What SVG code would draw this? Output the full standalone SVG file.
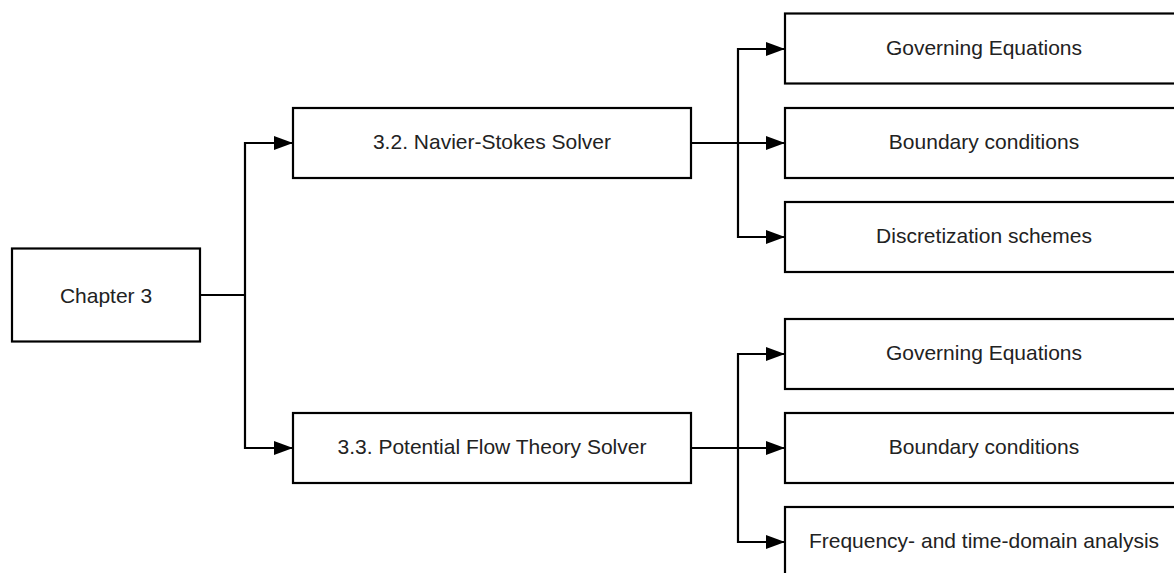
<svg xmlns="http://www.w3.org/2000/svg" width="1174" height="573" viewBox="0 0 1174 573">
<style>
.box{fill:#fff;stroke:#000;stroke-width:2.2}
.lbl{font-family:"Liberation Sans",Arial,sans-serif;font-size:21px;fill:#222;text-anchor:middle;dominant-baseline:central}
.con{fill:none;stroke:#000;stroke-width:2.2}
</style>
<defs>
<marker id="arr" markerUnits="userSpaceOnUse" markerWidth="19" markerHeight="15" refX="19" refY="7.5" orient="auto">
<path d="M0,0.5 L19,7.5 L0,14.5 Z" fill="#000"/>
</marker>
</defs>
<g id="connectors">
<path class="con" d="M200,295 H245"/>
<path class="con" d="M245,295 V143 H293" marker-end="url(#arr)"/>
<path class="con" d="M245,295 V448 H293" marker-end="url(#arr)"/>
<path class="con" d="M691,143 H738"/>
<path class="con" d="M738,143 V49 H785" marker-end="url(#arr)"/>
<path class="con" d="M738,143 H785" marker-end="url(#arr)"/>
<path class="con" d="M738,143 V237 H785" marker-end="url(#arr)"/>
<path class="con" d="M691,448 H738"/>
<path class="con" d="M738,448 V354 H785" marker-end="url(#arr)"/>
<path class="con" d="M738,448 H785" marker-end="url(#arr)"/>
<path class="con" d="M738,448 V542 H785" marker-end="url(#arr)"/>
</g>
<g id="chapter3"><rect class="box" x="12" y="248.5" width="188" height="93"/><text class="lbl" x="106" y="295">Chapter 3</text></g>
<g id="navier"><rect class="box" x="293" y="108" width="398" height="70"/><text class="lbl" x="492" y="141">3.2. Navier-Stokes Solver</text></g>
<g id="potential"><rect class="box" x="293" y="413" width="398" height="70"/><text class="lbl" x="492" y="446">3.3. Potential Flow Theory Solver</text></g>
<g id="ns-gov"><rect class="box" x="785" y="13.5" width="398" height="70"/><text class="lbl" x="984" y="47">Governing Equations</text></g>
<g id="ns-bc"><rect class="box" x="785" y="108" width="398" height="70"/><text class="lbl" x="984" y="141">Boundary conditions</text></g>
<g id="ns-disc"><rect class="box" x="785" y="202" width="398" height="70"/><text class="lbl" x="984" y="235">Discretization schemes</text></g>
<g id="pf-gov"><rect class="box" x="785" y="319" width="398" height="70"/><text class="lbl" x="984" y="352">Governing Equations</text></g>
<g id="pf-bc"><rect class="box" x="785" y="413" width="398" height="70"/><text class="lbl" x="984" y="446">Boundary conditions</text></g>
<g id="pf-freq"><rect class="box" x="785" y="507" width="398" height="70"/><text class="lbl" x="984" y="540">Frequency- and time-domain analysis</text></g>
</svg>
